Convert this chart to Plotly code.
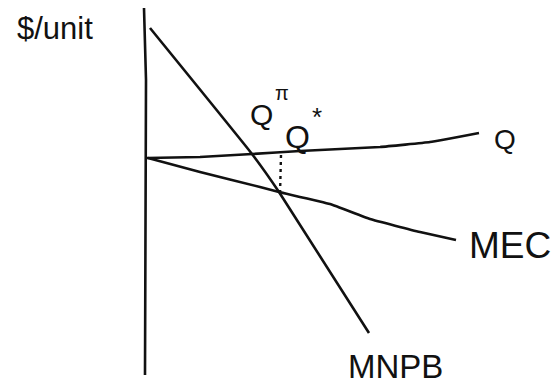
import plotly.graph_objects as go

# Sketch of an externality diagram: quantity on x, $/unit on y, origin at the axes corner.
axis_q = [-0.2, 0.0, -0.1]
axis_p = [15.0, 7.8, -21.7]

q_line_q = [0.1, 5.4, 10.6, 15.4, 23.4, 28.4, 33.3]
q_line_p = [0.0, 0.1, 0.4, 0.7, 1.1, 1.6, 2.5]

mnpb_q = [0.4, 10.6, 13.3, 22.3]
mnpb_p = [13.0, 0.4, -3.4, -17.5]

mec_q = [0.2, 5.4, 11.4, 13.3, 18.4, 22.4, 27.4, 31.0]
mec_p = [0.0, -1.4, -2.9, -3.4, -4.6, -6.1, -7.4, -8.2]

q_star_q = [13.5, 13.4]
q_star_p = [0.3, -3.7]

# main labels (centred on their point)
labels = ["$/unit", "Q", "Q", "Q", "MEC", "MNPB"]
label_q = [-9.1, 11.5, 15.1, 35.9, 36.4, 24.9]
label_p = [13.0, 4.4, 2.1, 1.9, -8.7, -20.8]
label_size = [31, 30, 32, 28, 37, 33]

# superscripts, anchored by their left edge just right of the Q they mark
sup_labels = ["π", "*"]
sup_q = [12.8, 16.5]
sup_p = [6.5, 4.1]
sup_size = [20, 26]

ink = "#111111"
font_family = "Liberation Sans, Arial, sans-serif"
fig = go.Figure()
line_style = dict(color=ink, width=2.6)
for xs, ys in [(axis_q, axis_p), (q_line_q, q_line_p), (mnpb_q, mnpb_p), (mec_q, mec_p)]:
    fig.add_trace(go.Scatter(x=xs, y=ys, mode="lines", line=dict(line_style, shape="spline", smoothing=0.3),
                             hoverinfo="skip", showlegend=False))
fig.add_trace(go.Scatter(x=q_star_q, y=q_star_p, mode="lines",
                         line=dict(color=ink, width=2.4, dash="3px,4px"),
                         hoverinfo="skip", showlegend=False))

for t, x, y, s in zip(labels, label_q, label_p, label_size):
    fig.add_annotation(x=x, y=y, text=t, showarrow=False,
                       font=dict(family=font_family, size=s, color=ink))
for t, x, y, s in zip(sup_labels, sup_q, sup_p, sup_size):
    fig.add_annotation(x=x, y=y, text=t, showarrow=False, xanchor="left", borderpad=0,
                       font=dict(family=font_family, size=s, color=ink))

fig.update_xaxes(range=[-14.6, 40.8], visible=False)
fig.update_yaxes(range=[-22.8, 15.8], visible=False)
fig.update_layout(width=554, height=386, margin=dict(l=0, r=0, t=0, b=0),
                  plot_bgcolor="white", paper_bgcolor="white")
fig.write_html("out.html")
